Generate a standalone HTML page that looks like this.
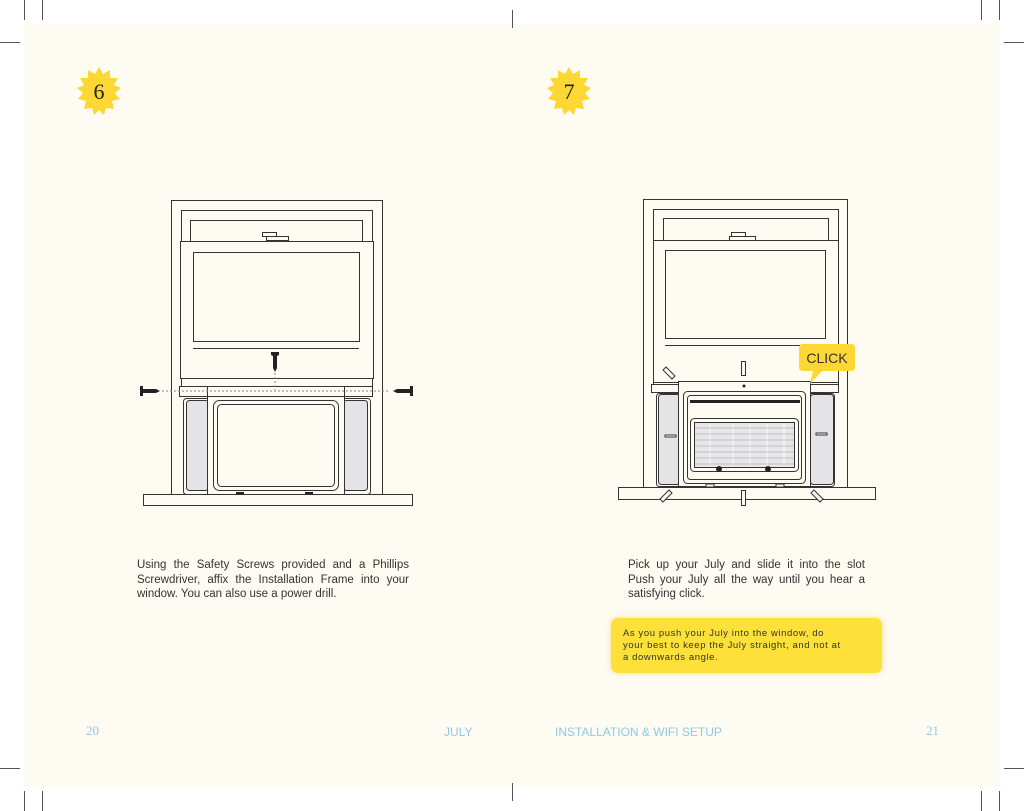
<!DOCTYPE html>
<html><head><meta charset="utf-8"><style>
body{margin:0;width:1024px;height:811px;background:#fff;position:relative;overflow:hidden;font-family:"Liberation Sans",sans-serif}
.pg{position:absolute;left:24px;top:24px;width:976px;height:763px;background:#fdfbf2}
.t{position:absolute;font-size:11.5px;line-height:14.5px;color:#333}
.t div{text-align:justify;text-align-last:justify;white-space:nowrap}
.t div.l{text-align-last:left}
.note{position:absolute;left:611px;top:618px;width:271px;height:55px;background:#fde03a;border-radius:7px;box-shadow:0 0 6px #fbe27a;box-sizing:border-box;padding:10px 12px;font-size:9.5px;line-height:12px;letter-spacing:0.6px;color:#333;white-space:nowrap}
.f{position:absolute;top:723px;font-size:11.5px;color:#8ec9e2}
</style></head><body>
<div class="pg"></div>
<svg width="1024" height="811" style="position:absolute;left:0;top:0" fill="none" stroke="#333" stroke-width="1">
<g stroke="#555">
<line x1="24.5" y1="0" x2="24.5" y2="20"/><line x1="42.5" y1="0" x2="42.5" y2="20"/><line x1="0" y1="42.5" x2="20" y2="42.5"/>
<line x1="999.5" y1="0" x2="999.5" y2="20"/><line x1="981.5" y1="0" x2="981.5" y2="20"/><line x1="1004" y1="42.5" x2="1024" y2="42.5"/>
<line x1="24.5" y1="791" x2="24.5" y2="811"/><line x1="42.5" y1="791" x2="42.5" y2="811"/><line x1="0" y1="768.5" x2="20" y2="768.5"/>
<line x1="999.5" y1="791" x2="999.5" y2="811"/><line x1="981.5" y1="791" x2="981.5" y2="811"/><line x1="1004" y1="768.5" x2="1024" y2="768.5"/>
<line x1="512.5" y1="10" x2="512.5" y2="28"/><line x1="512.5" y1="783" x2="512.5" y2="801"/>
</g>
<g fill="#fdd835" stroke="none">
<polygon points="99,67 103,74 110,70 110,78 118,78 114,85 121,88 115,93 120,99 112,101 114,109 106,108 104,115 99,110 94,115 92,108 84,109 86,101 78,99 83,93 77,88 84,85 80,78 88,78 88,70 95,74"/>
<polygon points="569,67 573,74 580,70 580,78 588,78 584,85 591,88 585,93 590,99 582,101 584,109 576,108 574,115 569,110 564,115 562,108 554,109 556,101 548,99 553,93 547,88 554,85 550,78 558,78 558,70 565,74"/>
</g>
<g font-family="Liberation Serif,serif" font-size="22" fill="#222" stroke="none" text-anchor="middle">
<text x="99" y="99">6</text><text x="569" y="99">7</text></g>
<g fill="#fdfbf2">
<rect x="171.5" y="200.5" width="211" height="295"/>
<rect x="181.5" y="210.5" width="191" height="176"/>
<rect x="190.5" y="220.5" width="172" height="22"/>
<rect x="180.5" y="241.5" width="193" height="137"/>
<rect x="193.5" y="252.5" width="166" height="89"/>
<line x1="193" y1="348.5" x2="359" y2="348.5"/>
<rect x="143.5" y="494.5" width="269" height="11"/>
<rect x="179.5" y="386.5" width="193" height="10"/>
<rect x="183.5" y="398.5" width="187" height="96" rx="3"/>
<rect x="186.5" y="400.5" width="22" height="90" rx="3" fill="#e4e4e6"/>
<rect x="343.5" y="400.5" width="24" height="90" rx="3" fill="#e4e4e6"/>
<rect x="207.5" y="386.5" width="137" height="108"/>
<line x1="207" y1="396.5" x2="344" y2="396.5"/>
<rect x="213.5" y="400.5" width="125" height="90" rx="6"/>
<rect x="217.5" y="404.5" width="117" height="82" rx="4"/>
<rect x="262.5" y="232.5" width="14" height="4"/><rect x="266.5" y="236.5" width="22" height="4"/>
</g>
<g fill="#222" stroke="none">
<rect x="236" y="492" width="8" height="2"/><rect x="305" y="492" width="8" height="2"/>
<polygon points="140,386 143,386 143,389 156,389 160,391 156,393 143,393 143,396 140,396"/>
<polygon points="413,386 410,386 410,389 397,389 393,391 397,393 410,393 410,396 413,396"/>
<polygon points="271,352 279,352 279,355 277,356 277,368 275,372 273,368 273,356 271,355"/>
</g>
<g stroke="#888" stroke-dasharray="2,2"><line x1="162" y1="391" x2="390" y2="391"/><line x1="275" y1="373" x2="275" y2="390"/></g>
<g fill="#fdfbf2">
<rect x="643.5" y="199.5" width="204" height="288"/>
<rect x="653.5" y="209.5" width="185" height="176"/>
<rect x="663.5" y="218.5" width="165" height="22"/>
<rect x="653.5" y="240.5" width="185" height="142"/>
<rect x="665.5" y="250.5" width="160" height="88"/>
<line x1="665" y1="345.5" x2="825" y2="345.5"/>
<rect x="618.5" y="487.5" width="257" height="12"/>
<rect x="651.5" y="384.5" width="187" height="8"/>
<rect x="656.5" y="393.5" width="178" height="93" rx="3"/>
<rect x="658.5" y="394.5" width="21" height="90" rx="3" fill="#e4e4e6"/>
<rect x="810.5" y="394.5" width="23" height="90" rx="3" fill="#e4e4e6"/>
<rect x="678.5" y="381.5" width="132" height="105"/>
<rect x="683.5" y="391.5" width="122" height="92" rx="4"/>
<rect x="687.5" y="395.5" width="114" height="84" rx="3"/>
<rect x="690.5" y="418.5" width="108" height="53" rx="4"/>
<rect x="694.5" y="422.5" width="100" height="45" fill="#e6e6e8"/>
<rect x="665" y="435" width="11" height="2" fill="#fff"/><rect x="816" y="433" width="11" height="2" fill="#fff"/>
<rect x="706" y="484" width="8" height="3"/><rect x="776" y="484" width="8" height="3"/>
<rect x="741.5" y="361.5" width="4" height="14"/><rect x="741.5" y="490.5" width="4" height="15"/>
<rect x="731.5" y="232.5" width="14" height="4"/><rect x="729.5" y="236.5" width="26" height="4"/>
</g>
<g stroke="#fff" stroke-width="1">
<line x1="710" y1="424" x2="710" y2="466"/><line x1="733" y1="424" x2="733" y2="466"/><line x1="750" y1="424" x2="750" y2="466"/><line x1="767" y1="424" x2="767" y2="466"/><line x1="784" y1="424" x2="784" y2="466"/>
</g>
<g stroke="#999" stroke-width="0.5">
<line x1="695" y1="428" x2="794" y2="428"/><line x1="695" y1="434" x2="794" y2="434"/><line x1="695" y1="440" x2="794" y2="440"/><line x1="695" y1="446" x2="794" y2="446"/><line x1="695" y1="452" x2="794" y2="452"/><line x1="695" y1="458" x2="794" y2="458"/><line x1="695" y1="464" x2="794" y2="464"/>
</g>
<g fill="#222" stroke="none">
<rect x="690" y="400" width="110" height="3"/>
<circle cx="719" cy="469" r="3"/><circle cx="768" cy="469" r="3"/><circle cx="744" cy="386" r="1.5"/>
</g>
<g stroke-width="1" fill="#fdfbf2">
<polygon points="663,370 666,367 675,376 672,379"/><polygon points="669,490 672,493 663,502 660,499"/><polygon points="814,490 811,493 820,502 823,499"/>
</g>
<path d="M803,344 H851 Q855,344 855,348 V367 Q855,371 851,371 H822 L810,384 L813,371 H803 Q799,371 799,367 V348 Q799,344 803,344 Z" fill="#fdd835" stroke="none"/>
<text x="827" y="363" font-family="Liberation Sans,sans-serif" font-size="14" fill="#333" stroke="none" text-anchor="middle">CLICK</text>
</svg>
<div class="t" style="left:137px;top:558px;width:272px"><div>Using the Safety Screws provided and a Phillips</div><div>Screwdriver, affix the Installation Frame into your</div><div class="l">window. You can also use a power drill.</div></div>
<div class="t" style="left:628px;top:558px;width:237px"><div>Pick up your July and slide it into the slot</div><div>Push your July all the way until you hear a</div><div class="l">satisfying click.</div></div>
<div class="note">As you push your July into the window, do<br>your best to keep the July straight, and not at<br>a downwards angle.</div>
<div class="f" style="left:86px;font-family:'Liberation Serif',serif;font-size:13px">20</div>
<div class="f" style="left:444px;top:725px;font-size:12px">JULY</div>
<div class="f" style="left:555px;top:725px;font-size:12px">INSTALLATION &amp; WIFI SETUP</div>
<div class="f" style="left:926px;font-family:'Liberation Serif',serif;font-size:13px">21</div>
</body></html>
